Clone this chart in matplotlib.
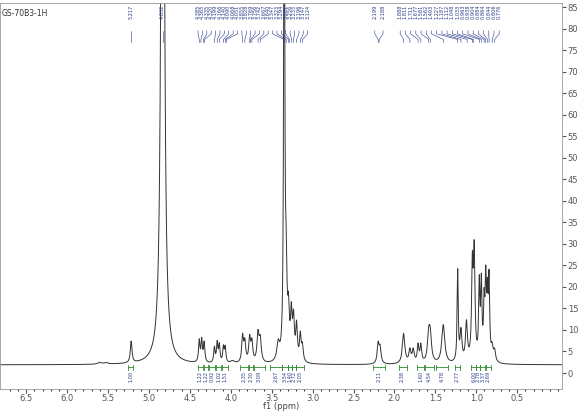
import numpy as np
import matplotlib
matplotlib.use("Agg")
import matplotlib.pyplot as plt

# peak model: positions (ppm), heights, half-widths
peak_pos = [5.217, 4.832, 4.385, 4.355, 4.325, 4.20, 4.166, 4.14, 4.09, 4.068,
            3.855, 3.828, 3.769, 3.742, 3.667, 3.640, 3.42, 3.347, 3.323, 3.294,
            3.26, 3.233, 3.196, 3.15, 3.124, 2.199, 2.175, 1.888, 1.811, 1.77,
            1.711, 1.677, 1.581, 1.562, 1.403, 1.227, 1.187, 1.12, 1.048, 1.025,
            0.963, 0.938, 0.904, 0.884, 0.864, 0.844, 0.806, 0.776, 5.6, 5.52, 3.98]
peak_h = [5.0, 300, 5.0, 5.0, 4.5, 3.5, 4.5, 4.0, 3.5, 3.5,
          6.0, 4.5, 5.5, 4.5, 6.5, 5.0, 4.0, 150, 18, 10,
          10, 9, 8, 6, 3.5, 4.5, 3.5, 7.0, 3.0, 3.0,
          4.0, 4.0, 6.0, 5.5, 9.0, 21, 7, 9, 21, 24,
          17, 17, 12, 17, 13, 18, 3.0, 2.5, 0.4, 0.3, 0.6]
peak_w = [0.012, 0.016, 0.01, 0.01, 0.01, 0.01, 0.01, 0.01, 0.01, 0.01,
          0.013, 0.013, 0.013, 0.013, 0.015, 0.015, 0.02, 0.007, 0.012, 0.012,
          0.012, 0.012, 0.012, 0.012, 0.012, 0.014, 0.014, 0.018, 0.015, 0.015,
          0.012, 0.012, 0.018, 0.018, 0.022, 0.008, 0.014, 0.014, 0.011, 0.011,
          0.009, 0.009, 0.009, 0.009, 0.009, 0.009, 0.014, 0.014, 0.03, 0.03, 0.03]
baseline = 1.9

peak_labels = ["5.217", "4.832", "4.385", "4.365", "4.335", "4.320", "4.199", "4.166", "4.140",
               "4.090", "4.068", "4.051", "3.855", "3.828", "3.769", "3.756", "3.742", "3.667",
               "3.640", "3.347", "3.323", "3.294", "3.281", "3.256", "3.233", "3.196", "3.147",
               "3.124", "2.199", "2.188", "1.888", "1.811", "1.711", "1.677", "1.581", "1.562",
               "1.403", "1.227", "1.187", "1.112", "1.048", "1.033", "0.963", "0.938", "0.904",
               "0.884", "0.864", "0.844", "0.806", "0.776"]

int_lo = [5.25, 4.40, 4.33, 4.26, 4.18, 4.11, 3.89, 3.78, 3.72, 3.52, 3.37, 3.30, 3.25, 3.20,
          2.26, 1.95, 1.72, 1.63, 1.49, 1.26, 1.06, 1.00, 0.95, 0.88]
int_hi = [5.19, 4.34, 4.28, 4.19, 4.12, 4.03, 3.79, 3.73, 3.58, 3.38, 3.30, 3.25, 3.20, 3.10,
          2.12, 1.85, 1.64, 1.52, 1.35, 1.20, 1.00, 0.95, 0.89, 0.82]
int_val = ["1.00", "1.22", "1.22", "0.92", "1.02", "1.51", "2.35", "2.30", "3.09", "2.67",
           "3.54", "1.40", "2.72", "2.05", "2.11", "2.38", "1.60", "4.54", "4.78", "2.77",
           "6.00", "2.78", "3.37", "2.69"]

x = np.linspace(-0.05, 6.82, 8000)
y = np.full_like(x, baseline)
for p, h, w in zip(peak_pos, peak_h, peak_w):
    y += h * w**2 / ((x - p)**2 + w**2)

fig = plt.figure(figsize=(5.82, 4.12), dpi=100)
ax = fig.add_axes([0.0, 0.056, 0.966, 0.937])
ax.plot(x, y, color="#333333", lw=0.7)
ax.set_xlim(6.82, -0.05)
ax.set_ylim(-3.7, 86.0)
ax.yaxis.tick_right()
ax.set_yticks(range(0, 90, 5))
ax.set_xticks(np.arange(0.5, 7.0, 0.5))
ax.set_xticks(np.arange(0.0, 6.8, 0.1), minor=True)
ax.tick_params(labelsize=6, colors="#555555", length=3, pad=1)
ax.tick_params(axis="x", which="minor", length=1.5)
for s in ax.spines.values():
    s.set_color("#999999"); s.set_linewidth(0.6)
ax.set_xlabel("f1 (ppm)", fontsize=6, color="#444444", labelpad=-1)
ax.text(0.003, 0.985, "GS-70B3-1H", transform=ax.transAxes, fontsize=5.5, va="top", color="#333333")

blue = "#2a3a8a"
vals = [float(v) for v in peak_labels]
groups = [(0, 2, 5.17, 4.82), (2, 28, 4.40, 3.06), (28, 30, 2.24, 2.14), (30, 50, 1.93, 0.72)]
for a, b, left, right in groups:
    xs = np.linspace(left, right, b - a)
    if a == 0:
        xs = [5.217, 4.832]
    for i in range(a, b):
        lx = xs[i - a]
        ax.text(lx, 85.6, peak_labels[i], rotation=90, fontsize=3.6, color=blue,
                ha="center", va="top")
        ax.plot([lx, lx, vals[i], vals[i]], [79.5, 78.8, 77.5, 76.8], color=blue, lw=0.4)

green = "#2e8b2e"
for lo, hi, v in zip(int_lo, int_hi, int_val):
    ax.plot([lo, hi], [1.3, 1.3], color=green, lw=0.6)
    ax.plot([lo, lo], [0.8, 1.8], color=green, lw=0.6)
    ax.plot([hi, hi], [0.8, 1.8], color=green, lw=0.6)
    ax.text((lo + hi) / 2, 0.5, v, rotation=90, fontsize=3.6, color=blue, ha="center", va="top")

fig.savefig("out.png", dpi=100)
